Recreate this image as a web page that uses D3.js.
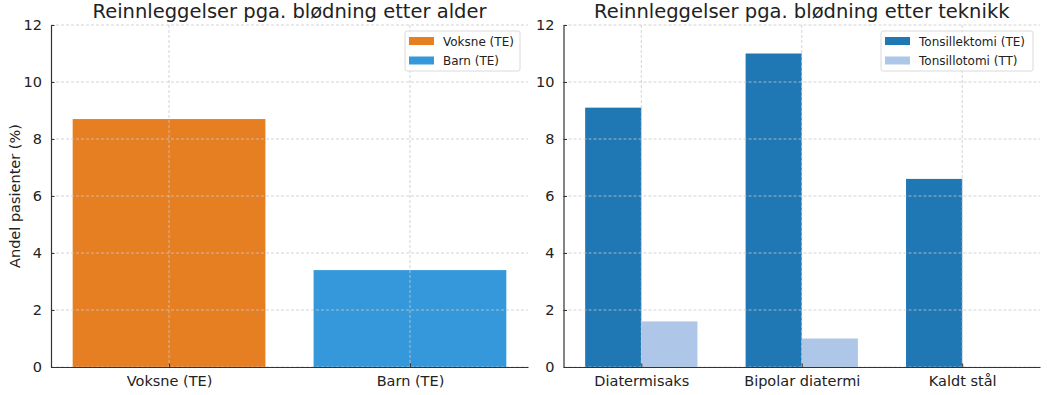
<!DOCTYPE html>
<html>
<head>
<meta charset="utf-8">
<script src="https://cdn.jsdelivr.net/npm/d3@7"></script>
<style>
  body { margin: 0; background: #fff; }
  svg { display: block; font-family: "DejaVu Sans", sans-serif; }
  .grid line { stroke: #c8c8c8; stroke-width: 0.8; stroke-dasharray: 3,2; }
  .axis path, .axis line { stroke: #333; }
  .axis text { font-family: "DejaVu Sans", sans-serif; font-size: 14.5px; fill: #222; }
</style>
</head>
<body>
<div id="chart"></div>
<script>
// data
var ageGroups = ["Voksne (TE)", "Barn (TE)"];
var ageValues = [8.7, 3.4];
var ageColors = ["#e67e22", "#3498db"];

var techniques = ["Diatermisaks", "Bipolar diatermi", "Kaldt stål"];
var teValues = [9.1, 11.0, 6.6];
var ttValues = [1.6, 1.0, 0];
var seriesNames = ["Tonsillektomi (TE)", "Tonsillotomi (TT)"];
var seriesColors = ["#1f77b4", "#aec7e8"];

var yTicks = [0, 2, 4, 6, 8, 10, 12];

var W = 1047, H = 395;
var plotTop = 25, plotBottom = 367;

var svg = d3.select("#chart").append("svg")
    .attr("width", W)
    .attr("height", H);

var y = d3.scaleLinear().domain([0, 12]).range([plotBottom, plotTop]);

// draws the frame of one panel: grid, axes, title
function panel(x0, x1, xDomain, tickPos, tickLabels, title) {
    var x = d3.scaleLinear().domain(xDomain).range([x0, x1]);
    var g = svg.append("g");

    var bars = g.append("g").attr("class", "bars");

    var grid = g.append("g").attr("class", "grid");
    grid.selectAll(".hy").data(yTicks).enter().append("line")
        .attr("x1", x0).attr("x2", x1)
        .attr("y1", function(d) { return y(d); })
        .attr("y2", function(d) { return y(d); });
    grid.selectAll(".vx").data(tickPos).enter().append("line")
        .attr("y1", plotTop).attr("y2", plotBottom)
        .attr("x1", function(d) { return x(d); })
        .attr("x2", function(d) { return x(d); });

    // y axis
    g.append("g")
        .attr("class", "axis")
        .attr("transform", "translate(" + x0 + ",0)")
        .call(d3.axisLeft(y).tickValues(yTicks).tickSizeInner(-3.5).tickSizeOuter(0).tickPadding(9))
        .call(function(a) { a.select(".domain").attr("stroke-width", 1.2); });

    // x axis
    g.append("g")
        .attr("class", "axis")
        .attr("transform", "translate(0," + plotBottom + ")")
        .call(d3.axisBottom(x).tickValues(tickPos)
            .tickFormat(function(d, i) { return tickLabels[i]; })
            .tickSizeInner(-3.5).tickSizeOuter(0).tickPadding(8))
        .call(function(a) {
            a.select(".domain").attr("stroke-width", 1.2);
            a.selectAll("text").attr("dy", "0.75em");
        });

    g.append("text")
        .attr("x", (x0 + x1) / 2)
        .attr("y", 18)
        .attr("text-anchor", "middle")
        .style("font-size", "19.5px")
        .style("fill", "#222")
        .text(title);

    return { x: x, bars: bars, g: g };
}

function legend(g, lx, ly, w, names, colors) {
    var lg = g.append("g").attr("transform", "translate(" + lx + "," + ly + ")");
    lg.append("rect")
        .attr("width", w).attr("height", 40)
        .attr("rx", 2)
        .attr("fill", "#fff").attr("fill-opacity", 0.85)
        .attr("stroke", "#d0d0d0").attr("stroke-width", 0.8);
    names.forEach(function(n, i) {
        lg.append("rect")
            .attr("x", 4).attr("y", 6 + i * 19.5)
            .attr("width", 25).attr("height", 8)
            .attr("fill", colors[i]);
        lg.append("text")
            .attr("x", 38).attr("y", 14.5 + i * 19.5)
            .style("font-size", "12px")
            .style("fill", "#222")
            .text(n);
    });
}

// left panel
var left = panel(51, 528, [-0.49, 1.49], [0, 1], ageGroups,
    "Reinnleggelser pga. blødning etter alder");

left.bars.selectAll("rect").data(ageValues).enter().append("rect")
    .attr("x", function(d, i) { return left.x(i - 0.4); })
    .attr("width", function(d, i) { return left.x(i + 0.4) - left.x(i - 0.4); })
    .attr("y", function(d) { return y(d); })
    .attr("height", function(d) { return y(0) - y(d); })
    .attr("fill", function(d, i) { return ageColors[i]; });

legend(left.g, 405, 31, 115, ageGroups, ageColors);

svg.append("text")
    .attr("transform", "translate(20," + ((plotTop + plotBottom) / 2) + ") rotate(-90)")
    .attr("text-anchor", "middle")
    .style("font-size", "14.5px")
    .style("fill", "#222")
    .text("Andel pasienter (%)");

// right panel
var right = panel(563.5, 1040, [-0.485, 2.485], [0, 1, 2], techniques,
    "Reinnleggelser pga. blødning etter teknikk");

var bw = 0.35;
[teValues, ttValues].forEach(function(vals, s) {
    right.bars.append("g").selectAll("rect").data(vals).enter().append("rect")
        .attr("x", function(d, i) { return right.x(i - bw + s * bw); })
        .attr("width", function(d, i) { return right.x(i + s * bw) - right.x(i - bw + s * bw); })
        .attr("y", function(d) { return y(d); })
        .attr("height", function(d) { return y(0) - y(d); })
        .attr("fill", seriesColors[s]);
});

legend(right.g, 881, 31, 152, seriesNames, seriesColors);
</script>
</body>
</html>
